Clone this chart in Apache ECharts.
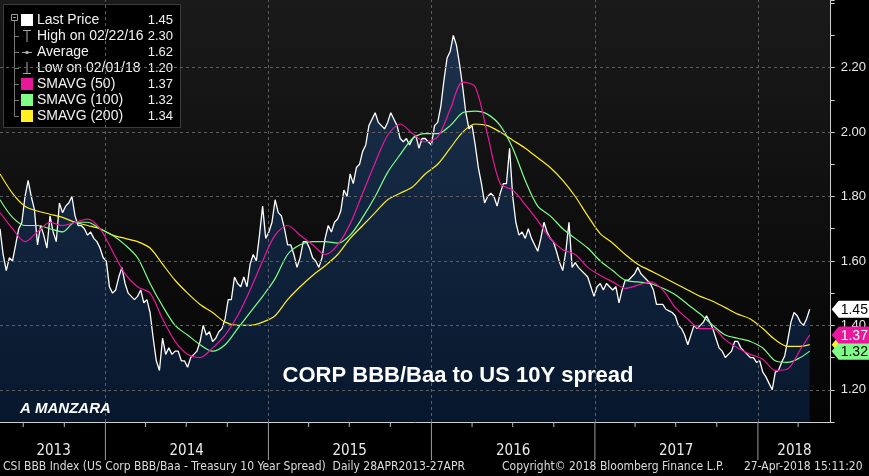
<!DOCTYPE html>
<html>
<head>
<meta charset="utf-8">
<title>CSI BBB Index</title>
<script src="https://cdn.jsdelivr.net/npm/echarts@6/dist/echarts.min.js"></script>
<style>
  html, body { margin: 0; padding: 0; background: #000; }
  #chart { width: 869px; height: 476px; }
</style>
</head>
<body>
<div id="chart"></div>
<script>
// price, read weekly from 10 May 2013
var priceStart = '2013-05-10';
var priceStepDays = 7;
var price = [
  1.70, 1.62, 1.57, 1.61, 1.60, 1.65, 1.70, 1.72, 1.80, 1.85,
  1.80, 1.76, 1.65, 1.71, 1.68, 1.64, 1.74, 1.69, 1.66, 1.78,
  1.75, 1.77, 1.78, 1.80, 1.74, 1.71, 1.71, 1.70, 1.68, 1.69,
  1.67, 1.66, 1.64, 1.61, 1.60, 1.52, 1.50, 1.51, 1.55, 1.58,
  1.53, 1.50, 1.49, 1.48, 1.49, 1.51, 1.47, 1.48, 1.44, 1.36,
  1.29, 1.26, 1.36, 1.31, 1.33, 1.31, 1.32, 1.32, 1.29, 1.29,
  1.27, 1.30, 1.31, 1.32, 1.35, 1.40, 1.37, 1.38, 1.35, 1.36,
  1.38, 1.39, 1.42, 1.48, 1.48, 1.55, 1.53, 1.52, 1.55, 1.52,
  1.59, 1.62, 1.60, 1.68, 1.77, 1.67, 1.69, 1.72, 1.79, 1.75,
  1.74, 1.70, 1.65, 1.65, 1.62, 1.58, 1.61, 1.66, 1.66, 1.64,
  1.61, 1.60, 1.58, 1.61, 1.67, 1.71, 1.69, 1.72, 1.73, 1.755,
  1.82, 1.80, 1.87, 1.84, 1.89, 1.90, 1.94, 1.96, 2.02, 2.04,
  2.06, 2.03, 2.02, 2.01, 2.03, 2.06, 2.04, 2.02, 1.98, 1.97,
  1.98, 1.96, 1.98, 1.99, 1.95, 1.98, 1.98, 1.97, 1.96, 2.02,
  2.03, 2.08, 2.16, 2.23, 2.25, 2.30, 2.27, 2.21, 2.14, 2.06,
  2.01, 2.02, 1.96, 1.89, 1.84, 1.78, 1.80, 1.81, 1.80, 1.77,
  1.81, 1.84, 1.84, 1.95, 1.80, 1.72, 1.68, 1.69, 1.67, 1.70,
  1.67, 1.65, 1.63, 1.67, 1.72, 1.69, 1.67, 1.66, 1.63, 1.595,
  1.57, 1.63, 1.72, 1.58, 1.595, 1.58, 1.57, 1.56, 1.55, 1.52,
  1.49, 1.52, 1.53, 1.51, 1.53, 1.52, 1.51, 1.52, 1.47, 1.51,
  1.54, 1.54, 1.55, 1.56, 1.58, 1.56, 1.55, 1.54, 1.53, 1.51,
  1.465, 1.465, 1.465, 1.45, 1.445, 1.44, 1.43, 1.40, 1.39, 1.37,
  1.34, 1.37, 1.40, 1.39, 1.40, 1.41, 1.43, 1.41, 1.39, 1.36,
  1.33, 1.32, 1.30, 1.31, 1.32, 1.35, 1.35, 1.33, 1.32, 1.31,
  1.30, 1.30, 1.285, 1.29, 1.255, 1.24, 1.22, 1.20, 1.255, 1.26,
  1.285, 1.305, 1.355, 1.41, 1.44, 1.43, 1.41, 1.40, 1.42
];
var lastDate = '2018-04-27';
var lastPrice = 1.45;

// moving averages, read every four weeks
var smaStart = '2013-05-10';
var smaStepDays = 28;
var sma50 = [
  1.75, 1.70, 1.66, 1.69, 1.72, 1.71, 1.72, 1.73, 1.70, 1.63,
  1.56, 1.52, 1.50, 1.42, 1.35, 1.31, 1.30, 1.33, 1.37, 1.43,
  1.51, 1.60, 1.68, 1.71, 1.68, 1.65, 1.62, 1.65, 1.715, 1.81,
  1.905, 1.99, 2.025, 1.995, 1.97, 1.985, 2.07, 2.155, 2.14, 1.99,
  1.84, 1.82, 1.775, 1.725, 1.67, 1.635, 1.62, 1.58, 1.555, 1.535,
  1.515, 1.525, 1.535, 1.51, 1.455, 1.42, 1.39, 1.39, 1.355, 1.33,
  1.31, 1.295, 1.26, 1.265, 1.325
];
var sma100 = [
  1.79, 1.735, 1.71, 1.71, 1.70, 1.69, 1.72, 1.72, 1.70, 1.68,
  1.65, 1.61, 1.53, 1.46, 1.40, 1.37, 1.34, 1.32, 1.34, 1.39,
  1.44, 1.49, 1.545, 1.62, 1.65, 1.66, 1.66, 1.655, 1.68, 1.735,
  1.80, 1.875, 1.93, 1.98, 1.995, 1.995, 2.02, 2.06, 2.065, 2.055,
  2.02, 1.95, 1.85, 1.77, 1.74, 1.70, 1.67, 1.64, 1.60, 1.57,
  1.54, 1.535, 1.53, 1.515, 1.495, 1.465, 1.435, 1.40, 1.37, 1.36,
  1.35, 1.33, 1.29, 1.285, 1.30
];
var sma200 = [
  1.87, 1.81, 1.77, 1.755, 1.745, 1.735, 1.72, 1.71, 1.70, 1.68,
  1.67, 1.66, 1.64, 1.59, 1.54, 1.50, 1.465, 1.44, 1.41, 1.40,
  1.40, 1.41, 1.43, 1.48, 1.52, 1.555, 1.585, 1.62, 1.67, 1.71,
  1.75, 1.79, 1.81, 1.83, 1.87, 1.90, 1.95, 2.00, 2.025, 2.02,
  2.00, 1.975, 1.95, 1.92, 1.89, 1.85, 1.80, 1.74, 1.685, 1.655,
  1.62, 1.59, 1.57, 1.55, 1.53, 1.51, 1.49, 1.475, 1.455, 1.435,
  1.42, 1.39, 1.355, 1.335, 1.335
];
var smaLast = [1.37, 1.32, 1.34];

var xMin = '2013-05-10';
var xMax = '2018-06-13';
var yearStarts = ['2014-01-01', '2015-01-01', '2016-01-01', '2017-01-01', '2018-01-01'];
var yearLabels = ['2013', '2014', '2015', '2016', '2017', '2018'];
var yearLabelDates = ['2013-09-07', '2014-07-02', '2015-07-02', '2016-07-02', '2017-07-02', '2018-03-24'];
var gridLevels = [1.2, 1.4, 1.6, 1.8, 2.0, 2.2];

var legendNames = ['Last Price', 'High on 02/22/16', 'Average', 'Low on 02/01/18', 'SMAVG (50)', 'SMAVG (100)', 'SMAVG (200)'];
var legendValues = ['1.45', '2.30', '1.62', '1.20', '1.37', '1.32', '1.34'];

// tags on the right axis, drawn bottom to top
var tagValues = [1.34, 1.32, 1.37, 1.45];
var tagFill = ['#ffee22', '#80ff88', '#e8179c', '#ffffff'];
var tagText = ['#000', '#000', '#fff', '#000'];

var DAY = 86400000;
function ts(s) { return new Date(s + 'T00:00:00Z').getTime(); }

var baseFont = "'Liberation Sans', Arial, sans-serif";
var narrowFont = "'Liberation Sans Narrow', 'Arial Narrow', 'DejaVu Sans Condensed', sans-serif";

var priceData = price.map(function (v, i) { return [ts(priceStart) + i * priceStepDays * DAY, v]; });
priceData.push([ts(lastDate), lastPrice]);

function smaSeries(arr, last) {
  var d = arr.map(function (v, i) { return [ts(smaStart) + i * smaStepDays * DAY, v]; });
  d.push([ts(lastDate), last]);
  return d;
}

// quarter ticks on the time axis
var quarterTicks = [];
for (var y = 2013; y <= 2018; y++) {
  [3, 6, 9].forEach(function (m) {
    var t = Date.UTC(y, m, 1);
    if (t > ts(xMin) && t < ts(xMax)) quarterTicks.push([t, 1.1]);
  });
}

var chart = echarts.init(document.getElementById('chart'));

// legend box top left
var legendEls = [
  { type: 'rect', shape: { x: 3.5, y: 4.5, width: 177, height: 123 }, style: { fill: '#000', stroke: '#3c3c3c', lineWidth: 1 } },
  { type: 'rect', shape: { x: 11.5, y: 14.5, width: 6, height: 6 }, style: { fill: 'none', stroke: '#999', lineWidth: 1 } },
  { type: 'line', shape: { x1: 13, y1: 17.5, x2: 16, y2: 17.5 }, style: { stroke: '#999', lineWidth: 1 } },
  { type: 'line', shape: { x1: 14.5, y1: 21, x2: 14.5, y2: 116.5 }, style: { stroke: '#777', lineWidth: 1 } }
];
legendNames.forEach(function (name, k) {
  var ry = 20 + 16 * k;
  if (k > 0) legendEls.push({ type: 'line', shape: { x1: 14.5, y1: ry + 0.5, x2: 19, y2: ry + 0.5 }, style: { stroke: '#777', lineWidth: 1 } });
  legendEls.push({ type: 'text', x: 37, y: ry, style: { text: name, fill: '#f2f2f2', font: '14px ' + baseFont, verticalAlign: 'middle' } });
  legendEls.push({ type: 'text', x: 173, y: ry, style: { text: legendValues[k], fill: '#f2f2f2', font: '13px ' + baseFont, align: 'right', verticalAlign: 'middle' } });
});
legendEls.push(
  { type: 'rect', shape: { x: 21, y: 14, width: 12, height: 12 }, style: { fill: '#fff' } },
  { type: 'line', shape: { x1: 23, y1: 30.5, x2: 31, y2: 30.5 }, style: { stroke: '#aaa', lineWidth: 1 } },
  { type: 'line', shape: { x1: 27, y1: 30, x2: 27, y2: 42 }, style: { stroke: '#aaa', lineWidth: 1 } },
  { type: 'line', shape: { x1: 22, y1: 52.5, x2: 32, y2: 52.5 }, style: { stroke: '#aaa', lineWidth: 1 } },
  { type: 'circle', shape: { cx: 27, cy: 52.5, r: 1.8 }, style: { fill: '#aaa' } },
  { type: 'line', shape: { x1: 27, y1: 62, x2: 27, y2: 74 }, style: { stroke: '#aaa', lineWidth: 1 } },
  { type: 'line', shape: { x1: 23, y1: 73.5, x2: 31, y2: 73.5 }, style: { stroke: '#aaa', lineWidth: 1 } },
  { type: 'rect', shape: { x: 21, y: 78, width: 12, height: 12 }, style: { fill: '#e8179c' } },
  { type: 'rect', shape: { x: 21, y: 94, width: 12, height: 12 }, style: { fill: '#80ff88' } },
  { type: 'rect', shape: { x: 21, y: 110, width: 12, height: 12 }, style: { fill: '#ffee22' } }
);

var option = {
  animation: false,
  backgroundColor: '#000',
  grid: {
    left: 0, right: 37, top: 0, bottom: 54,
    show: true, borderWidth: 0,
    backgroundColor: new echarts.graphic.LinearGradient(0, 0, 0, 1, [
      { offset: 0, color: '#1a1a1a' }, { offset: 1, color: '#040404' }
    ])
  },
  xAxis: {
    type: 'time', min: ts(xMin), max: ts(xMax),
    axisLine: { show: true, lineStyle: { color: '#cfcfcf', width: 1 } },
    axisTick: { show: false }, axisLabel: { show: false }, splitLine: { show: false }
  },
  yAxis: {
    type: 'value', position: 'right', min: 1.1, max: 2.41, interval: 0.1,
    axisLine: { show: true, lineStyle: { color: '#cfcfcf', width: 1 } },
    axisTick: { show: true, length: 4, lineStyle: { color: '#cfcfcf' } },
    splitLine: { show: false },
    axisLabel: {
      color: '#e8e8e8', fontSize: 13, fontFamily: baseFont, margin: 10,
      formatter: function (v) {
        var k = Math.round(v * 10);
        return (k % 2 === 0 && k >= 12 && k <= 22) ? (k / 10).toFixed(2) : '';
      }
    }
  },
  series: [
    {
      name: 'Last Price', type: 'line', data: priceData, showSymbol: false, z: 3,
      lineStyle: { color: '#ffffff', width: 1.3 },
      areaStyle: {
        origin: 'start',
        color: new echarts.graphic.LinearGradient(0, 0, 0, 1, [
          { offset: 0, color: '#1e3b62' }, { offset: 1, color: '#08203f' }
        ])
      },
      markLine: {
        silent: true, symbol: 'none', label: { show: false },
        lineStyle: { type: [3, 3], color: '#5e5e5e', width: 1 },
        data: gridLevels.map(function (v) { return { yAxis: v }; })
          .concat(yearStarts.map(function (d) { return { xAxis: ts(d) }; }))
      }
    },
    { name: 'SMAVG (200)', type: 'line', data: smaSeries(sma200, smaLast[2]), showSymbol: false, smooth: 0.3, z: 4, lineStyle: { color: '#ffee22', width: 1.2 } },
    { name: 'SMAVG (100)', type: 'line', data: smaSeries(sma100, smaLast[1]), showSymbol: false, smooth: 0.3, z: 4, lineStyle: { color: '#80ff88', width: 1.2 } },
    { name: 'SMAVG (50)', type: 'line', data: smaSeries(sma50, smaLast[0]), showSymbol: false, smooth: 0.3, z: 5, lineStyle: { color: '#e8179c', width: 1.2 } },
    {
      // quarter ticks under the axis
      type: 'custom', coordinateSystem: 'cartesian2d', clip: false, silent: true, z: 6,
      data: quarterTicks,
      renderItem: function (params, api) {
        var p = api.coord([api.value(0), api.value(1)]);
        return { type: 'line', shape: { x1: p[0], y1: p[1], x2: p[0], y2: p[1] + 5 }, style: { stroke: '#bbb', lineWidth: 1 } };
      }
    },
    {
      // year dividers under the axis
      type: 'custom', coordinateSystem: 'cartesian2d', clip: false, silent: true, z: 6,
      data: yearStarts.map(function (d) { return [ts(d), 1.1]; }),
      renderItem: function (params, api) {
        var p = api.coord([api.value(0), api.value(1)]);
        return { type: 'line', shape: { x1: p[0], y1: p[1], x2: p[0], y2: p[1] + 38 }, style: { stroke: '#9a9a9a', lineWidth: 1 } };
      }
    },
    {
      // year labels
      type: 'custom', coordinateSystem: 'cartesian2d', clip: false, silent: true, z: 6,
      data: yearLabelDates.map(function (d) { return [ts(d), 1.1]; }),
      renderItem: function (params, api) {
        var p = api.coord([api.value(0), api.value(1)]);
        return { type: 'text', x: p[0], y: p[1] + 29, style: { text: yearLabels[params.dataIndex], fill: '#eaeaea', font: '15px ' + narrowFont, align: 'center', verticalAlign: 'middle' } };
      }
    },
    {
      // value tags on the right axis
      type: 'custom', coordinateSystem: 'cartesian2d', clip: false, silent: true, z: 10,
      data: tagValues.map(function (v) { return [ts(lastDate), v]; }),
      renderItem: function (params, api) {
        var i = params.dataIndex;
        var p = api.coord([api.value(0), api.value(1)]);
        var x0 = params.coordSys.x + params.coordSys.width;
        var y = p[1];
        return {
          type: 'group', children: [
            { type: 'polygon', shape: { points: [[x0 + 1, y], [x0 + 8, y - 8.5], [869, y - 8.5], [869, y + 8.5], [x0 + 8, y + 8.5]] }, style: { fill: tagFill[i] } },
            { type: 'text', x: x0 + 10, y: y + 1, style: { text: api.value(1).toFixed(2), fill: tagText[i], font: '14px ' + baseFont, verticalAlign: 'middle' } }
          ]
        };
      }
    }
  ],
  graphic: [
    { type: 'group', z: 20, children: legendEls },
    { type: 'text', z: 20, x: 458, y: 376, style: { text: 'CORP BBB/Baa to US 10Y spread', fill: '#fff', font: 'bold 22px ' + baseFont, align: 'center', verticalAlign: 'middle' } },
    { type: 'text', z: 20, x: 20, y: 409, style: { text: 'A MANZARA', fill: '#fff', font: 'italic bold 15px ' + baseFont, verticalAlign: 'middle' } },
    { type: 'text', z: 20, x: 3, y: 467, style: { text: 'CSI BBB Index (US Corp BBB/Baa - Treasury 10 Year Spread)  Daily 28APR2013-27APR', fill: '#dcdcdc', font: '12px ' + narrowFont, verticalAlign: 'middle' } },
    { type: 'text', z: 20, x: 502, y: 467, style: { text: 'Copyright\u00a9 2018 Bloomberg Finance L.P.', fill: '#dcdcdc', font: '12px ' + narrowFont, verticalAlign: 'middle' } },
    { type: 'text', z: 20, x: 744, y: 467, style: { text: '27-Apr-2018 15:11:20', fill: '#dcdcdc', font: '12px ' + narrowFont, verticalAlign: 'middle' } }
  ]
};

chart.setOption(option);
</script>
</body>
</html>
